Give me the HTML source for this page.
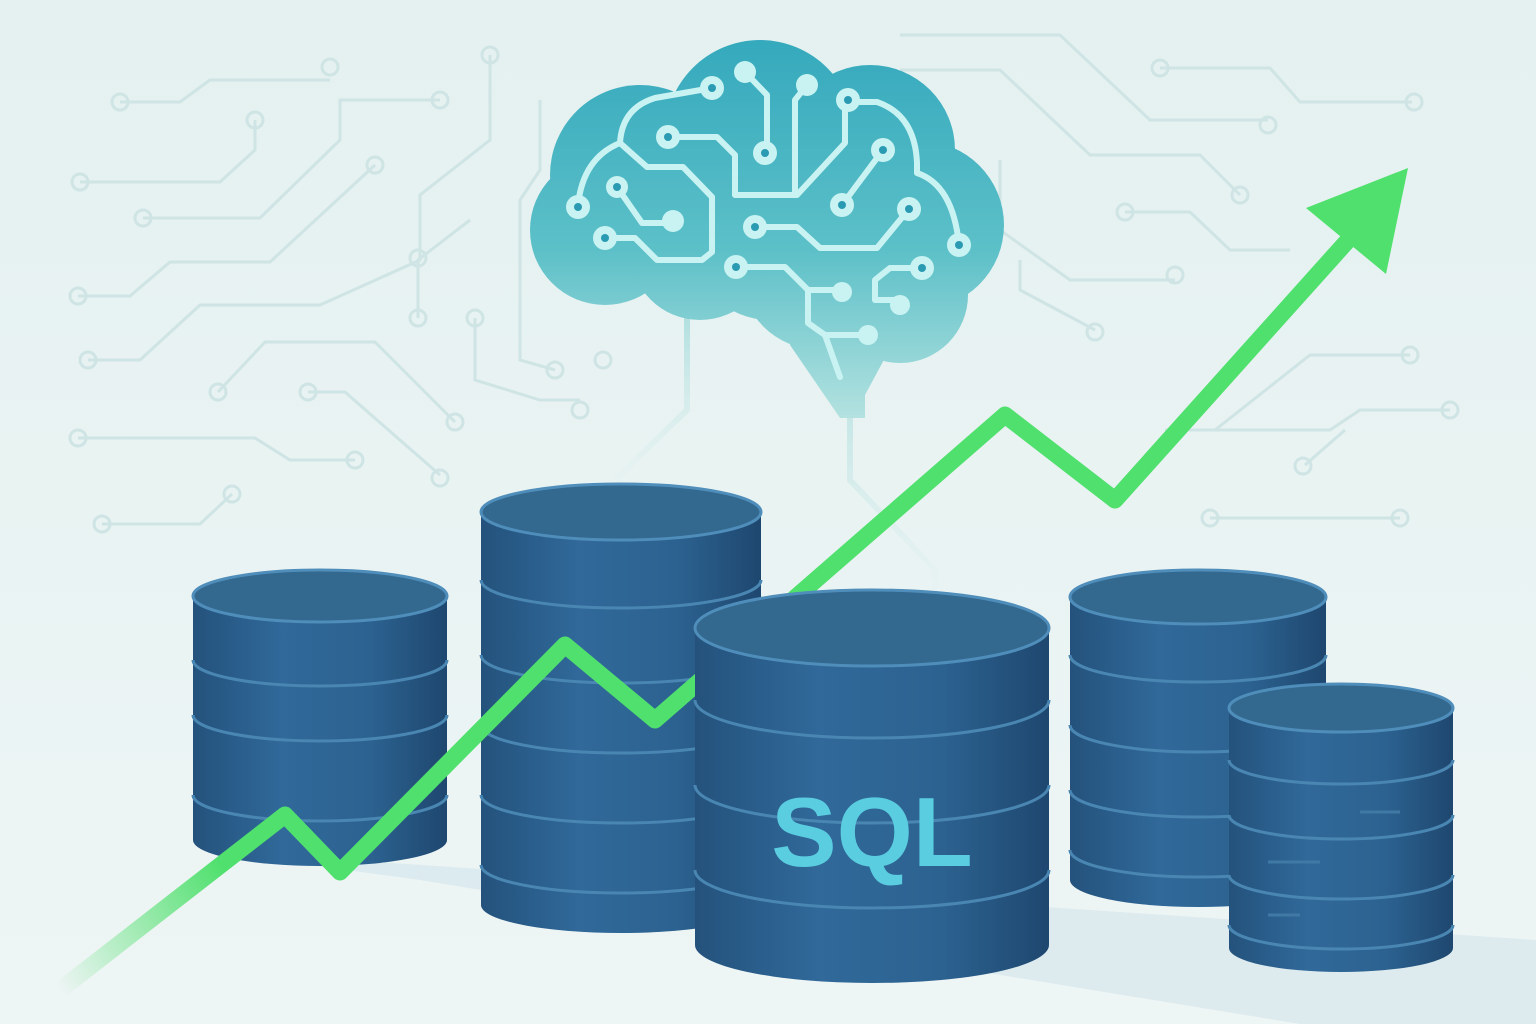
<!DOCTYPE html>
<html><head><meta charset="utf-8"><style>html,body{margin:0;padding:0;background:#e6f2f1}svg{display:block}</style></head>
<body>
<svg width="1536" height="1024" viewBox="0 0 1536 1024" xmlns="http://www.w3.org/2000/svg">
<defs>
<linearGradient id="bg" x1="0" y1="0" x2="0" y2="1"><stop offset="0" stop-color="#e4f1f0"/><stop offset="1" stop-color="#eef5f5"/></linearGradient>
<linearGradient id="brain" gradientUnits="userSpaceOnUse" x1="0" y1="40" x2="0" y2="420"><stop offset="0" stop-color="#35a9bd"/><stop offset="0.55" stop-color="#5cc0c8"/><stop offset="1" stop-color="#b4e2e0"/></linearGradient>
<linearGradient id="stem" x1="0" y1="0" x2="0" y2="1"><stop offset="0" stop-color="#a8dcdc"/><stop offset="1" stop-color="#e2f1f0" stop-opacity="0.3"/></linearGradient>
<linearGradient id="body" x1="0" y1="0" x2="1" y2="0"><stop offset="0" stop-color="#24527c"/><stop offset="0.35" stop-color="#30699a"/><stop offset="0.7" stop-color="#2c6290"/><stop offset="1" stop-color="#1e476f"/></linearGradient>
<linearGradient id="arrow" gradientUnits="userSpaceOnUse" x1="60" y1="990" x2="400" y2="760"><stop offset="0" stop-color="#4fe06d" stop-opacity="0"/><stop offset="0.5" stop-color="#4fe06d"/><stop offset="1" stop-color="#4fe06d"/></linearGradient>
</defs>
<rect width="1536" height="1024" fill="url(#bg)"/>
<!-- background circuits -->
<g fill="none" stroke="#cfe4e4" stroke-width="3">
<path d="M120,102 H180 L210,80 H330"/><circle cx="120" cy="102" r="8"/><circle cx="330" cy="67" r="8"/>
<path d="M80,182 H220 L255,150 V120"/><circle cx="80" cy="182" r="8"/><circle cx="255" cy="120" r="8"/>
<path d="M143,218 H260 L340,140 V100 H440"/><circle cx="143" cy="218" r="8"/><circle cx="440" cy="100" r="8"/>
<path d="M78,296 H130 L170,262 H270 L375,165"/><circle cx="78" cy="296" r="8"/><circle cx="375" cy="165" r="8"/>
<path d="M88,360 H140 L200,305 H320 L420,260 V195 L490,140 V55"/><circle cx="88" cy="360" r="8"/><circle cx="490" cy="55" r="8"/>
<path d="M218,392 L265,342 H375 L455,422"/><circle cx="218" cy="392" r="8"/><circle cx="455" cy="422" r="8"/>
<path d="M78,438 H255 L290,460 H355"/><circle cx="78" cy="438" r="8"/><circle cx="355" cy="460" r="8"/>
<path d="M308,392 H345 L440,475"/><circle cx="308" cy="392" r="8"/><circle cx="440" cy="478" r="8"/>
<path d="M102,524 H200 L232,494"/><circle cx="102" cy="524" r="8"/><circle cx="232" cy="494" r="8"/>
<path d="M475,318 V380 L540,400 H580"/><circle cx="475" cy="318" r="8"/><circle cx="580" cy="410" r="8"/>
<path d="M418,318 V260 L470,220"/><circle cx="418" cy="318" r="8"/><circle cx="418" cy="258" r="8"/>
<path d="M540,100 V170 L520,200 V360 L555,370"/><circle cx="555" cy="370" r="8"/><circle cx="603" cy="360" r="8"/>
<path d="M900,35 H1060 L1150,120 H1268"/><circle cx="1268" cy="125" r="8"/>
<path d="M900,70 H1000 L1090,155 H1200 L1240,195"/><circle cx="1240" cy="195" r="8"/>
<path d="M1160,68 H1270 L1300,102 H1412"/><circle cx="1160" cy="68" r="8"/><circle cx="1414" cy="102" r="8"/>
<path d="M1125,212 H1190 L1230,250 H1290"/><circle cx="1125" cy="212" r="8"/>
<path d="M1000,160 V230 L1070,280 H1175"/><circle cx="1175" cy="275" r="8"/>
<path d="M1020,260 V290 L1095,330"/><circle cx="1095" cy="332" r="8"/>
<path d="M1215,430 L1310,355 H1410"/><circle cx="1410" cy="355" r="8"/>
<path d="M1165,430 H1330 L1360,410 H1450"/><circle cx="1450" cy="410" r="8"/>
<path d="M1305,465 L1345,430"/><circle cx="1303" cy="466" r="8"/>
<path d="M1210,518 H1400"/><circle cx="1210" cy="518" r="8"/><circle cx="1400" cy="518" r="8"/>
</g>
<!-- stems -->
<g fill="none" stroke="url(#stem)" stroke-width="6">
<path d="M687,300 V410 L615,480"/><path d="M735,300 V440"/><path d="M790,320 V560"/>
<path d="M800,330 L850,410 V480 L935,570 V590"/>
</g>
<!-- brain -->
<g fill="url(#brain)">
<circle cx="640" cy="175" r="90"/><circle cx="760" cy="135" r="95"/><circle cx="870" cy="150" r="85"/><circle cx="920" cy="225" r="84"/><circle cx="605" cy="230" r="75"/><circle cx="700" cy="250" r="70"/><circle cx="820" cy="270" r="80"/><circle cx="900" cy="295" r="68"/><circle cx="770" cy="240" r="80"/>
<path d="M800,300 L900,330 L865,395 V418 H840 L790,345 Z"/>
</g>
<g fill="none" stroke="#c9f3f2" stroke-width="6" stroke-linejoin="round" stroke-linecap="round">
<path d="M712,88 L655,98 Q622,108 620,143 Q583,158 578,205"/>
<path d="M620,143 L647,167 H683 L712,197 V252 L702,260 H657 L635,238 H605"/>
<path d="M617,187 L642,223 H673"/>
<path d="M668,137 H717 L735,155 V195 H797 L845,143 V102"/>
<path d="M745,72 L767,95 V153"/>
<path d="M807,85 L795,100 V195"/>
<path d="M883,150 L842,205"/>
<path d="M848,102 H877 Q915,115 917,163 V173 Q953,185 959,245"/>
<path d="M755,227 H797 L820,248 H877 L909,209"/>
<path d="M736,267 H785 L808,290 H842 M808,290 V323 L825,335 H868 M825,335 L840,377"/>
<path d="M922,268 H890 L875,280 V300 H900"/>
</g>
<g fill="#c9f3f2">
<circle cx="712" cy="88" r="12"/><circle cx="578" cy="207" r="12"/><circle cx="605" cy="238" r="12"/><circle cx="617" cy="187" r="11"/><circle cx="673" cy="221" r="11"/><circle cx="668" cy="137" r="12"/><circle cx="745" cy="72" r="11"/><circle cx="765" cy="153" r="12"/><circle cx="807" cy="85" r="11"/><circle cx="883" cy="150" r="12"/><circle cx="842" cy="205" r="12"/><circle cx="848" cy="100" r="12"/><circle cx="959" cy="245" r="12"/><circle cx="755" cy="227" r="12"/><circle cx="909" cy="209" r="12"/><circle cx="736" cy="267" r="12"/><circle cx="842" cy="292" r="10"/><circle cx="868" cy="335" r="10"/><circle cx="922" cy="268" r="12"/><circle cx="900" cy="305" r="10"/>
</g>
<g fill="#2a9bb3">
<circle cx="712" cy="88" r="4"/><circle cx="578" cy="207" r="4"/><circle cx="605" cy="238" r="4"/><circle cx="617" cy="187" r="4"/><circle cx="668" cy="137" r="4"/><circle cx="765" cy="153" r="4"/><circle cx="883" cy="150" r="4"/><circle cx="842" cy="205" r="4"/><circle cx="848" cy="100" r="4"/><circle cx="959" cy="245" r="4"/><circle cx="755" cy="227" r="4"/><circle cx="909" cy="209" r="4"/><circle cx="736" cy="267" r="4"/><circle cx="922" cy="268" r="4"/>
</g>
<!-- shadow -->
<path d="M200,850 L1536,940 V1024 H1300 L420,880 Z" fill="#d6e7ec" opacity="0.7"/>
<!-- cylinder 1 -->
<g>
<path d="M193,596 V840 A127,26 0 0 0 447,840 V596 Z" fill="url(#body)"/>
<g fill="none" stroke="#4a86b2" stroke-width="3"><path d="M193,660 A127,26 0 0 0 447,660"/><path d="M193,715 A127,26 0 0 0 447,715"/><path d="M193,795 A127,26 0 0 0 447,795"/></g>
<ellipse cx="320" cy="596" rx="127" ry="26" fill="#33688f" stroke="#4f8dba" stroke-width="3"/>
</g>
<!-- cylinder 2 -->
<g>
<path d="M481,512 V905 A140,28 0 0 0 761,905 V512 Z" fill="url(#body)"/>
<g fill="none" stroke="#4a86b2" stroke-width="3"><path d="M481,580 A140,28 0 0 0 761,580"/><path d="M481,655 A140,28 0 0 0 761,655"/><path d="M481,725 A140,28 0 0 0 761,725"/><path d="M481,795 A140,28 0 0 0 761,795"/><path d="M481,865 A140,28 0 0 0 761,865"/></g>
<ellipse cx="621" cy="512" rx="140" ry="28" fill="#33688f" stroke="#4f8dba" stroke-width="3"/>
</g>
<!-- arrow -->
<polyline points="60,990 285,815 340,872 565,645 655,720 1005,415 1115,500 1350,238" fill="none" stroke="url(#arrow)" stroke-width="17" stroke-linejoin="round"/>
<polygon points="1408,168 1306,208 1386,274" fill="#4fe06d"/>
<!-- cylinder 3 SQL -->
<g>
<path d="M695,628 V945 A177,38 0 0 0 1049,945 V628 Z" fill="url(#body)"/>
<g fill="none" stroke="#4a86b2" stroke-width="3"><path d="M695,700 A177,38 0 0 0 1049,700"/><path d="M695,785 A177,38 0 0 0 1049,785"/><path d="M695,870 A177,38 0 0 0 1049,870"/></g>
<ellipse cx="872" cy="628" rx="177" ry="38" fill="#33688f" stroke="#4f8dba" stroke-width="3"/>
<text x="872" y="866" text-anchor="middle" font-family="Liberation Sans, sans-serif" font-weight="bold" font-size="98" fill="#5acde0">SQL</text>
</g>
<!-- cylinder 4 -->
<g>
<path d="M1070,597 V880 A128,27 0 0 0 1326,880 V597 Z" fill="url(#body)"/>
<g fill="none" stroke="#4a86b2" stroke-width="3"><path d="M1070,655 A128,27 0 0 0 1326,655"/><path d="M1070,725 A128,27 0 0 0 1326,725"/><path d="M1070,790 A128,27 0 0 0 1326,790"/><path d="M1070,850 A128,27 0 0 0 1326,850"/></g>
<ellipse cx="1198" cy="597" rx="128" ry="27" fill="#33688f" stroke="#4f8dba" stroke-width="3"/>
</g>
<!-- cylinder 5 -->
<g>
<path d="M1229,708 V948 A112,24 0 0 0 1453,948 V708 Z" fill="url(#body)"/>
<g fill="none" stroke="#4a86b2" stroke-width="3"><path d="M1229,760 A112,24 0 0 0 1453,760"/><path d="M1229,815 A112,24 0 0 0 1453,815"/><path d="M1229,875 A112,24 0 0 0 1453,875"/><path d="M1229,925 A112,24 0 0 0 1453,925"/></g>
<g stroke="#3f79a4" stroke-width="3"><path d="M1360,812 H1400"/><path d="M1268,862 H1320"/><path d="M1268,915 H1300"/></g>
<ellipse cx="1341" cy="708" rx="112" ry="24" fill="#33688f" stroke="#4f8dba" stroke-width="3"/>
</g>
</svg>
</body></html>
